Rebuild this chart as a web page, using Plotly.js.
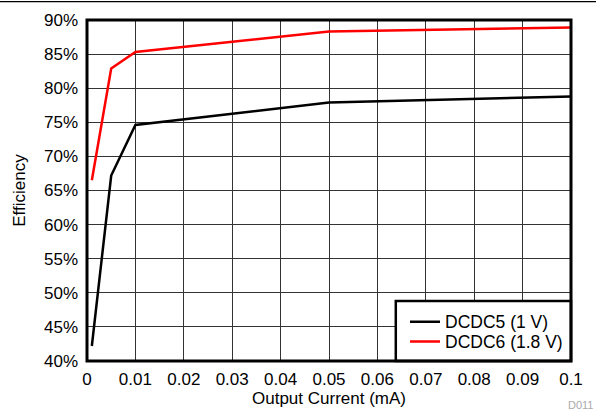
<!DOCTYPE html>
<html><head><meta charset="utf-8">
<script src="https://cdn.plot.ly/plotly-3.0.1.min.js"></script>
<style>html,body{margin:0;padding:0;background:#fff}#c{width:596px;height:413px}</style>
</head><body><div id="c"></div>
<script>
const currentX = [0.001, 0.005, 0.01, 0.05, 0.1];
const dcdc5 = [42.2, 67.2, 74.6, 77.9, 78.8];
const dcdc6 = [66.5, 82.9, 85.3, 88.3, 88.9];
const seriesNames = ['DCDC5 (1 V)', 'DCDC6 (1.8 V)'];
const xTicks = [0,0.01,0.02,0.03,0.04,0.05,0.06,0.07,0.08,0.09,0.1];
const xTickText = ['0','0.01','0.02','0.03','0.04','0.05','0.06','0.07','0.08','0.09','0.1'];
const yTicks = [40,45,50,55,60,65,70,75,80,85,90];
const yTickText = yTicks.map(v => v + '%');

const font = {family: 'Liberation Sans, Arial, sans-serif', size: 17, color: '#000'};
const legFont = {family: font.family, size: 17.5, color: '#000'};
const traces = [
  {x: currentX, y: dcdc5, mode: 'lines', name: seriesNames[0], legend: 'legend', line: {color: '#000', width: 2.5}},
  {x: currentX, y: dcdc6, mode: 'lines', name: seriesNames[1], legend: 'legend2', line: {color: '#ff0000', width: 2.5}}
];
const legBase = {x: 0.657, xanchor: 'left', yanchor: 'middle', bgcolor: 'rgba(0,0,0,0)',
  borderwidth: 0, font: legFont, itemwidth: 30};
const layout = {
  width: 596, height: 413,
  margin: {l: 87, r: 25, t: 19.5, b: 52, pad: 0},
  paper_bgcolor: '#fff', plot_bgcolor: '#fff',
  font: font,
  showlegend: true,
  legend: Object.assign({}, legBase, {y: 0.1151}),
  legend2: Object.assign({}, legBase, {y: 0.0565}),
  xaxis: {range: [0, 0.1], tickvals: xTicks, ticktext: xTickText, showgrid: true,
    gridcolor: '#333', gridwidth: 1, zeroline: false, showline: false, ticks: '',
    ticklabelstandoff: 6,
    title: {text: 'Output Current (mA)', font: font, standoff: 4}},
  yaxis: {range: [40, 90], tickvals: yTicks, ticktext: yTickText, showgrid: true,
    gridcolor: '#333', gridwidth: 1, zeroline: false, showline: false, ticks: '',
    ticklabelstandoff: 8,
    title: {text: 'Efficiency', font: font, standoff: 14}},
  shapes: [
    {type: 'rect', xref: 'paper', yref: 'paper', x0: 0.638, x1: 1, y0: 0, y1: 0.1757,
     fillcolor: '#fff', line: {color: '#000', width: 2.5}, layer: 'above'},
    {type: 'rect', xref: 'paper', yref: 'paper', x0: 0, x1: 1, y0: 0, y1: 1,
     line: {color: '#000', width: 3}, layer: 'above'},
    {type: 'line', xref: 'paper', yref: 'paper', x0: -0.18, x1: 1.06, y0: 1.054, y1: 1.054,
     line: {color: '#000', width: 1.2}}
  ],
  annotations: [
    {text: 'D011', xref: 'paper', yref: 'paper', x: 1.05, y: -0.128, xanchor: 'right', yanchor: 'middle',
     showarrow: false, font: {family: font.family, size: 11, color: '#aaa'}}
  ]
};
Plotly.newPlot('c', traces, layout, {displayModeBar: false, staticPlot: true});
</script></body></html>
